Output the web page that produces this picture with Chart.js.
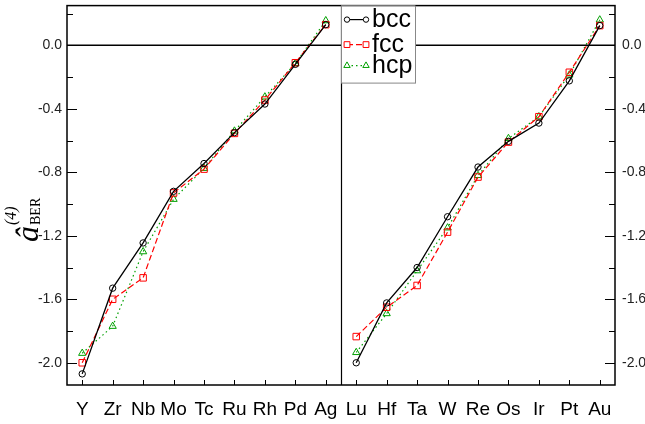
<!DOCTYPE html>
<html>
<head>
<meta charset="utf-8">
<script src="https://cdn.jsdelivr.net/npm/chart.js@4/dist/chart.umd.min.js"></script>
<style>
  html, body { margin: 0; padding: 0; background: #fff; }
  #wrap { width: 645px; height: 424px; position: relative; }
</style>
</head>
<body>
<div id="wrap"><canvas id="chart" width="645" height="424"></canvas></div>
<script>
const leftElements = ["Y", "Zr", "Nb", "Mo", "Tc", "Ru", "Rh", "Pd", "Ag"];
const rightElements = ["Lu", "Hf", "Ta", "W", "Re", "Os", "Ir", "Pt", "Au"];

const bccLeft = [-2.07, -1.53, -1.245, -0.92, -0.745, -0.55, -0.37, -0.12, 0.13];
const fccLeft = [-2.0, -1.6, -1.465, -0.93, -0.78, -0.555, -0.345, -0.11, 0.13];
const hcpLeft = [-1.94, -1.77, -1.3, -0.97, -0.775, -0.54, -0.325, -0.115, 0.155];

const bccRight = [-2.0, -1.623, -1.4, -1.08, -0.767, -0.605, -0.49, -0.224, 0.124];
const fccRight = [-1.835, -1.65, -1.513, -1.177, -0.83, -0.61, -0.45, -0.17, 0.124];
const hcpRight = [-1.935, -1.69, -1.42, -1.15, -0.82, -0.587, -0.45, -0.187, 0.16];

const yTicks = [-2.0, -1.6, -1.2, -0.8, -0.4, 0.0];
const seriesNames = ["bcc", "fcc", "hcp"];

const FONT = "'Liberation Sans', Arial, Helvetica, sans-serif";
const colors = { bcc: "#000000", fcc: "#ff0000", hcp: "#00a000" };
const dashes = { bcc: [], fcc: [6, 3], hcp: [1.5, 3] };
const shapes = { bcc: "circle", fcc: "rect", hcp: "triangle" };
const radii = { bcc: 3.2, fcc: 4.6, hcp: 4.2 };

function makeDataset(name, left, right) {
  const c = colors[name];
  return {
    label: name,
    data: left.concat(right),
    borderColor: c,
    borderWidth: name === "bcc" ? 1.3 : 1.2,
    borderDash: dashes[name],
    pointStyle: shapes[name],
    pointRadius: radii[name],
    pointBorderWidth: 1,
    pointBorderColor: c,
    pointBackgroundColor: "rgba(0,0,0,0)",
    fill: false,
    tension: 0,
    segment: {
      // no line between Ag and Lu, they are in different panels
      borderColor: ctx => ctx.p0DataIndex === leftElements.length - 1 ? "rgba(0,0,0,0)" : c
    }
  };
}

function fitY(width) {
  return scale => {
    scale.width = width;
    scale.paddingTop = 0;
    scale.paddingBottom = 0;
  };
}

const framePlugin = {
  id: "frame",
  afterDraw(chart) {
    const ctx = chart.ctx;
    const area = chart.chartArea;
    const xs = chart.scales.x;
    const ys = chart.scales.y;
    ctx.save();
    ctx.strokeStyle = "#000";
    ctx.lineWidth = 1.5;
    ctx.setLineDash([]);
    ctx.strokeRect(area.left, area.top, area.right - area.left, area.bottom - area.top);

    // divider between panels
    const n = leftElements.length;
    const xd = Math.round((xs.getPixelForValue(n - 1) + xs.getPixelForValue(n)) / 2) + 0.5;
    ctx.lineWidth = 1.2;
    ctx.beginPath();
    ctx.moveTo(xd, area.top);
    ctx.lineTo(xd, area.bottom);
    ctx.stroke();

    // zero line
    const y0 = ys.getPixelForValue(0);
    ctx.lineWidth = 1.6;
    ctx.beginPath();
    ctx.moveTo(area.left, y0);
    ctx.lineTo(area.right, y0);
    ctx.stroke();

    // y ticks, major + minor, inward on both sides
    ctx.lineWidth = 1;
    const ticks = [];
    yTicks.forEach(v => { ticks.push([v, 10]); ticks.push([v + 0.2, 6]); });
    ticks.forEach(([v, len]) => {
      const y = Math.round(ys.getPixelForValue(v)) + 0.5;
      ctx.beginPath();
      ctx.moveTo(area.left, y);
      ctx.lineTo(area.left + len, y);
      ctx.moveTo(area.right, y);
      ctx.lineTo(area.right - len, y);
      ctx.stroke();
    });

    // x ticks
    chart.data.labels.forEach((l, i) => {
      const x = Math.round(xs.getPixelForValue(i)) + 0.5;
      ctx.beginPath();
      ctx.moveTo(x, area.bottom);
      ctx.lineTo(x, area.bottom - 5);
      ctx.stroke();
    });

    // legend
    const lx = xd - 0.5, ly = area.top, lw = 74, lh = 77;
    ctx.fillStyle = "#fff";
    ctx.fillRect(lx, ly, lw, lh);
    ctx.strokeStyle = "#888";
    ctx.lineWidth = 1;
    ctx.strokeRect(lx + 0.5, ly + 0.5, lw, lh);
    const rowY = [14, 39, 60];
    seriesNames.forEach((name, i) => {
      const y = ly + rowY[i];
      const x1 = lx + 6, x2 = lx + 25;
      ctx.strokeStyle = colors[name];
      ctx.lineWidth = 1.2;
      ctx.setLineDash(dashes[name]);
      ctx.beginPath();
      ctx.moveTo(x1, y);
      ctx.lineTo(x2, y);
      ctx.stroke();
      ctx.setLineDash([]);
      ctx.lineWidth = 1;
      ctx.fillStyle = "#fff";
      [x1, x2].forEach(px => {
        Chart.helpers.drawPoint(ctx, { pointStyle: shapes[name], radius: radii[name] - 0.5, borderWidth: 1 }, px, y);
      });
      ctx.fillStyle = "#000";
      ctx.font = "25px " + FONT;
      ctx.textBaseline = "middle";
      ctx.textAlign = "left";
      ctx.fillText(name, lx + 31, y + 1);
    });

    // y axis title: a-hat (4) sub BER
    ctx.translate(38, 242);
    ctx.rotate(-Math.PI / 2);
    ctx.fillStyle = "#000";
    ctx.textBaseline = "alphabetic";
    ctx.font = "italic 32px 'Liberation Serif', 'DejaVu Serif', serif";
    ctx.fillText("\u00e2", 0, 0);
    const w = ctx.measureText("\u00e2").width;
    ctx.font = "italic 16px 'Liberation Serif', 'DejaVu Serif', serif";
    ctx.fillText("(4)", w + 1, -22);
    ctx.font = "14px 'Liberation Serif', 'DejaVu Serif', serif";
    ctx.fillText("BER", w + 1, 2);
    ctx.restore();
  }
};

new Chart(document.getElementById("chart"), {
  type: "line",
  data: {
    labels: leftElements.concat(rightElements),
    datasets: [
      makeDataset("bcc", bccLeft, bccRight),
      makeDataset("fcc", fccLeft, fccRight),
      makeDataset("hcp", hcpLeft, hcpRight)
    ]
  },
  options: {
    responsive: false,
    animation: false,
    devicePixelRatio: 1,
    layout: { padding: { top: -3, left: 0, right: 0, bottom: 0 } },
    plugins: { legend: { display: false }, tooltip: { enabled: false } },
    scales: {
      x: {
        type: "category",
        offset: true,
        grid: { display: false, drawTicks: false },
        border: { display: false },
        ticks: { color: "#000", font: { family: FONT, size: 19 }, padding: 13, autoSkip: false, maxRotation: 0 },
        afterFit(scale) { scale.height = 39; scale.paddingLeft = 0; scale.paddingRight = 0; }
      },
      y: {
        position: "left",
        min: -2.14,
        max: 0.25,
        grid: { display: false, drawTicks: false },
        border: { display: false },
        afterBuildTicks(scale) { scale.ticks = yTicks.map(v => ({ value: v })); },
        ticks: { color: "#222", font: { family: FONT, size: 14 }, padding: 5, callback: v => v.toFixed(1) },
        afterFit: fitY(67)
      },
      y2: {
        position: "right",
        min: -2.14,
        max: 0.25,
        grid: { display: false, drawTicks: false },
        border: { display: false },
        afterBuildTicks(scale) { scale.ticks = yTicks.map(v => ({ value: v })); },
        ticks: { color: "#222", font: { family: FONT, size: 14 }, padding: 7, callback: v => v.toFixed(1) },
        afterFit: fitY(30)
      }
    }
  },
  plugins: [framePlugin]
});
</script>
</body>
</html>
